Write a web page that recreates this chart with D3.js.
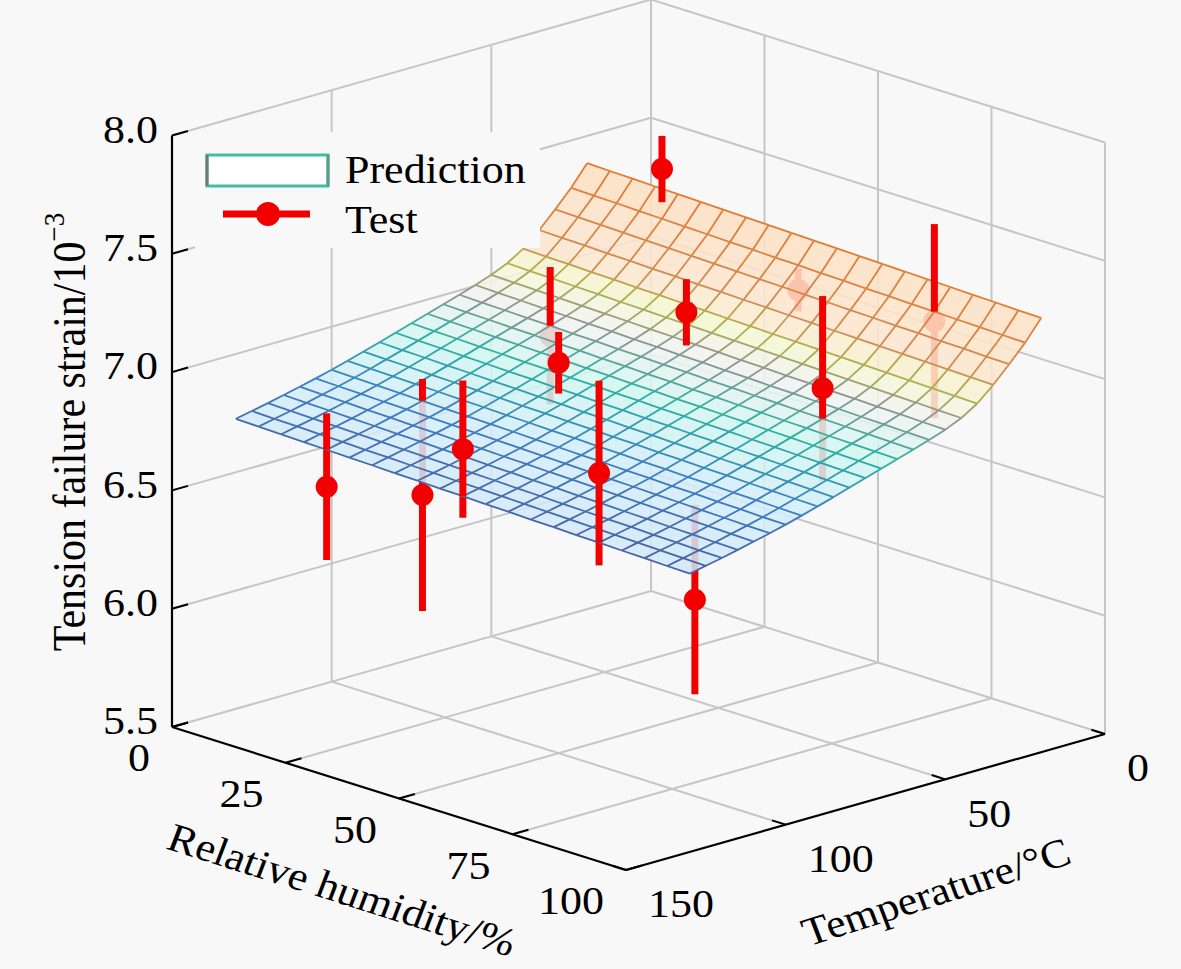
<!DOCTYPE html>
<html>
<head>
<meta charset="utf-8">
<script src="https://cdn.jsdelivr.net/npm/d3@7"></script>
<style>
  body { margin: 0; background: #f8f8f8; }
  text { font-family: "Liberation Serif", "Times New Roman", Times, serif; fill: #000; }
</style>
</head>
<body>
<svg id="chart" width="1181" height="969"></svg>
<script>
// axis ticks
var zTicks = [5.5, 6.0, 6.5, 7.0, 7.5, 8.0];
var rhTicks = [0, 25, 50, 75, 100];
var tTicks = [0, 50, 100, 150];

// prediction surface: mesh nodes (relative humidity %, temperature C) and strain/10^-3
var surfRH = [0, 5, 10, 15, 20, 25, 30, 35, 40, 45, 50, 55, 60, 65, 70, 75, 80, 85, 90, 95, 100];
var surfT = [20, 25, 30, 35, 40, 45, 50, 55, 60, 65, 70, 75, 80, 85, 90, 95, 100, 105, 110, 115, 120, 125, 130];
var surfStrain = [
  [7.385,7.382,7.380,7.377,7.375,7.372,7.370,7.367,7.365,7.362,7.360,7.357,7.355,7.352,7.350,7.347,7.345,7.342,7.340,7.337,7.335],
  [7.300,7.297,7.295,7.292,7.290,7.287,7.285,7.282,7.280,7.277,7.275,7.272,7.270,7.267,7.265,7.262,7.260,7.257,7.255,7.252,7.250],
  [7.228,7.225,7.223,7.220,7.218,7.215,7.213,7.210,7.208,7.205,7.203,7.200,7.198,7.195,7.193,7.190,7.188,7.185,7.183,7.180,7.178],
  [7.160,7.157,7.155,7.152,7.150,7.147,7.145,7.142,7.140,7.137,7.135,7.132,7.130,7.127,7.125,7.122,7.120,7.117,7.115,7.112,7.110],
  [7.100,7.097,7.095,7.092,7.090,7.087,7.085,7.082,7.080,7.077,7.075,7.072,7.070,7.067,7.065,7.062,7.060,7.057,7.055,7.052,7.050],
  [7.058,7.055,7.053,7.050,7.048,7.045,7.043,7.040,7.038,7.035,7.033,7.030,7.028,7.025,7.023,7.020,7.018,7.015,7.013,7.010,7.008],
  [7.028,7.025,7.023,7.020,7.018,7.015,7.013,7.010,7.008,7.005,7.003,7.000,6.998,6.995,6.993,6.990,6.988,6.985,6.983,6.980,6.978],
  [7.004,7.001,6.999,6.996,6.994,6.991,6.989,6.986,6.984,6.981,6.979,6.976,6.974,6.971,6.969,6.966,6.964,6.961,6.959,6.956,6.954],
  [6.982,6.979,6.977,6.974,6.972,6.969,6.967,6.964,6.962,6.959,6.957,6.954,6.952,6.949,6.947,6.944,6.942,6.939,6.937,6.934,6.932],
  [6.961,6.958,6.956,6.953,6.951,6.948,6.946,6.943,6.941,6.938,6.936,6.933,6.931,6.928,6.926,6.923,6.921,6.918,6.916,6.913,6.911],
  [6.940,6.937,6.935,6.932,6.930,6.927,6.925,6.922,6.920,6.917,6.915,6.912,6.910,6.907,6.905,6.902,6.900,6.897,6.895,6.892,6.890],
  [6.919,6.916,6.914,6.911,6.909,6.906,6.904,6.901,6.899,6.896,6.894,6.891,6.889,6.886,6.884,6.881,6.879,6.876,6.874,6.871,6.869],
  [6.898,6.895,6.893,6.890,6.888,6.885,6.883,6.880,6.878,6.875,6.873,6.870,6.868,6.865,6.863,6.860,6.858,6.855,6.853,6.850,6.848],
  [6.877,6.874,6.872,6.869,6.867,6.864,6.862,6.859,6.857,6.854,6.852,6.849,6.847,6.844,6.842,6.839,6.837,6.834,6.832,6.829,6.827],
  [6.857,6.854,6.852,6.849,6.847,6.844,6.842,6.839,6.837,6.834,6.832,6.829,6.827,6.824,6.822,6.819,6.817,6.814,6.812,6.809,6.807],
  [6.837,6.834,6.832,6.829,6.827,6.824,6.822,6.819,6.817,6.814,6.812,6.809,6.807,6.804,6.802,6.799,6.797,6.794,6.792,6.789,6.787],
  [6.818,6.815,6.813,6.810,6.808,6.805,6.803,6.800,6.798,6.795,6.793,6.790,6.788,6.785,6.783,6.780,6.778,6.775,6.773,6.770,6.768],
  [6.801,6.798,6.796,6.793,6.791,6.788,6.786,6.783,6.781,6.778,6.776,6.773,6.771,6.768,6.766,6.763,6.761,6.758,6.756,6.753,6.751],
  [6.785,6.782,6.780,6.777,6.775,6.772,6.770,6.767,6.765,6.762,6.760,6.757,6.755,6.752,6.750,6.747,6.745,6.742,6.740,6.737,6.735],
  [6.769,6.766,6.764,6.761,6.759,6.756,6.754,6.751,6.749,6.746,6.744,6.741,6.739,6.736,6.734,6.731,6.729,6.726,6.724,6.721,6.719],
  [6.754,6.751,6.749,6.746,6.744,6.741,6.739,6.736,6.734,6.731,6.729,6.726,6.724,6.721,6.719,6.716,6.714,6.711,6.709,6.706,6.704],
  [6.740,6.737,6.735,6.732,6.730,6.727,6.725,6.722,6.720,6.717,6.715,6.712,6.710,6.707,6.705,6.702,6.700,6.697,6.695,6.692,6.690],
  [6.726,6.723,6.721,6.718,6.716,6.713,6.711,6.708,6.706,6.703,6.701,6.698,6.696,6.693,6.691,6.688,6.686,6.683,6.681,6.678,6.676]
];

// test points
var testRH = [20, 50, 80, 20, 50, 80, 20, 50, 80, 20, 50, 80];
var testT = [25, 25, 25, 60, 60, 60, 100, 100, 100, 130, 130, 130];
var testStrain = [7.50, 7.17, 7.22, 6.93, 7.21, 7.07, 6.41, 7.15, 6.33, 6.56, 6.90, 6.98];
var testErr = [0.14, 0.09, 0.41, 0.29, 0.14, 0.39, 0.49, 0.13, 0.40, 0.31, 0.29, 0.39];

var svg = d3.select("#chart");
svg.append("rect").attr("width", 1181).attr("height", 969).attr("fill", "#f8f8f8");

// oblique view: each data axis maps onto a screen vector
var ox = 651, oy = 591;
var rhX = d3.scaleLinear().domain([0, 100]).range([0, 454]);
var rhY = d3.scaleLinear().domain([0, 100]).range([0, 143]);
var tX = d3.scaleLinear().domain([0, 150]).range([0, -479]);
var tY = d3.scaleLinear().domain([0, 150]).range([0, 136]);
var zY = d3.scaleLinear().domain([5.5, 8.0]).range([0, -591.5]);

function proj(rh, t, z) {
  return [ox + rhX(rh) + tX(t), oy + rhY(rh) + tY(t) + zY(z)];
}

function seg(g, a, b, color, w) {
  g.append("line")
    .attr("x1", a[0]).attr("y1", a[1])
    .attr("x2", b[0]).attr("y2", b[1])
    .attr("stroke", color).attr("stroke-width", w);
}

var SX = 1.1; // glyphs in the picture are slightly wide
function label(x, y, str, anchor, rot, size) {
  var r = Math.atan(Math.tan(rot * Math.PI / 180) * SX) * 180 / Math.PI;
  if (rot === -90) r = -90;
  return svg.append("text")
    .attr("transform", "translate(" + x + "," + y + ") scale(" + SX + ",1) rotate(" + r + ")")
    .attr("text-anchor", anchor)
    .attr("dominant-baseline", "central")
    .attr("font-size", size || 40)
    .text(str);
}

// back walls and floor grid
var grid = svg.append("g");
var gc = "#c6c6c6";
zTicks.forEach(function(z) {
  if (z > 5.5) {
    seg(grid, proj(0, 0, z), proj(0, 150, z), gc, 2);
    seg(grid, proj(0, 0, z), proj(100, 0, z), gc, 2);
  }
});
tTicks.forEach(function(t) {
  if (t < 150) seg(grid, proj(0, t, 5.5), proj(0, t, 8.0), gc, 2);
  if (t < 150) seg(grid, proj(0, t, 5.5), proj(100, t, 5.5), gc, 2);
});
rhTicks.forEach(function(rh) {
  if (rh > 0) seg(grid, proj(rh, 0, 5.5), proj(rh, 0, 8.0), gc, 2);
  if (rh < 100) seg(grid, proj(rh, 0, 5.5), proj(rh, 150, 5.5), gc, 2);
});

// axes
var ax = svg.append("g");
seg(ax, proj(0, 150, 5.5), proj(0, 150, 8.0), "#000", 2.2);
seg(ax, proj(0, 150, 5.5), proj(100, 150, 5.5), "#000", 2.2);
seg(ax, proj(100, 150, 5.5), proj(100, 0, 5.5), "#000", 2.2);
zTicks.forEach(function(z) {
  seg(ax, proj(0, 150, z), proj(0, 145, z), "#000", 2);
  var p = proj(0, 150, z);
  label(158, p[1] - 6, d3.format(".1f")(z), "end", 0);
});
rhTicks.forEach(function(rh) {
  seg(ax, proj(rh, 150, 5.5), proj(rh, 145, 5.5), "#000", 2);
  var p = proj(rh, 150, 5.5);
  label(p[0] - 22, p[1] + 31, rh, "end", 0);
});
tTicks.forEach(function(t) {
  seg(ax, proj(100, t, 5.5), proj(97, t, 5.5), "#000", 2);
  var p = proj(100, t, 5.5);
  label(p[0] + 22, p[1] + 34, t, "start", 0);
});

label(342, 890, "Relative humidity/%", "middle", 17.5);
label(936, 892, "Temperature/\u00b0C", "middle", -17.5);
var yl = label(70, 432, "Tension failure strain/10", "middle", -90, 42);
yl.append("tspan").attr("dy", -15).attr("font-size", 27).text("\u22123");

// test points split at the surface: parts under it are drawn first
var bars = testRH.map(function(rh, k) {
  var zs = surfStrain[surfT.indexOf(testT[k])][surfRH.indexOf(rh)];
  return { rh: rh, t: testT[k], z: testStrain[k], lo: testStrain[k] - testErr[k], hi: testStrain[k] + testErr[k], zs: zs };
});
var red = "#f20000";
function drawBar(g, b, z0, z1) {
  seg(g, proj(b.rh, b.t, z0), proj(b.rh, b.t, z1), red, 7);
}
function drawDot(g, b) {
  var p = proj(b.rh, b.t, b.z);
  g.append("circle").attr("cx", p[0]).attr("cy", p[1]).attr("r", 11).attr("fill", red);
}

var behind = svg.append("g");
bars.forEach(function(b) {
  if (b.lo < b.zs) drawBar(behind, b, b.lo, Math.min(b.hi, b.zs));
  if (b.z < b.zs) drawDot(behind, b);
});

// surface colours
var zExt = d3.extent(surfStrain.flat());
var tn = d3.scaleLinear().domain(zExt).range([0, 1]);
var stops = [0, 0.16, 0.32, 0.44, 0.54, 0.64, 1];
var edgeColor = d3.scaleLinear().domain(stops)
  .range(["#4a62a0", "#3f7cc0", "#2bb1a0", "#8e9494", "#adb34a", "#d08c56", "#e47a30"]);
var faceColor = d3.scaleLinear().domain(stops)
  .range(["#d2e8f8", "#d3eefa", "#d2f7f1", "#f2f3f1", "#f5f8d2", "#fde6cf", "#fde0c2"]);

var faces = svg.append("g");
var edges = svg.append("g");
var cells = [];
for (var j = 0; j < surfT.length - 1; j++) {
  for (var i = 0; i < surfRH.length - 1; i++) {
    var zc = (surfStrain[j][i] + surfStrain[j][i + 1] + surfStrain[j + 1][i] + surfStrain[j + 1][i + 1]) / 4;
    cells.push({
      pts: [proj(surfRH[i], surfT[j], surfStrain[j][i]),
            proj(surfRH[i + 1], surfT[j], surfStrain[j][i + 1]),
            proj(surfRH[i + 1], surfT[j + 1], surfStrain[j + 1][i + 1]),
            proj(surfRH[i], surfT[j + 1], surfStrain[j + 1][i])],
      z: zc, depth: i / 20 + j / 22
    });
  }
}
cells.sort(function(a, b) { return a.depth - b.depth; });
faces.selectAll("path").data(cells).join("path")
  .attr("d", function(d) { return "M" + d.pts.join("L") + "Z"; })
  .attr("fill", function(d) { return faceColor(tn(d.z)); })
  .attr("fill-opacity", 0.86);

surfT.forEach(function(t, j) {
  surfRH.forEach(function(rh, i) {
    var z = surfStrain[j][i];
    if (i < surfRH.length - 1) {
      var z2 = surfStrain[j][i + 1];
      seg(edges, proj(rh, t, z), proj(surfRH[i + 1], t, z2), edgeColor(tn((z + z2) / 2)), 1.8);
    }
    if (j < surfT.length - 1) {
      var z3 = surfStrain[j + 1][i];
      seg(edges, proj(rh, t, z), proj(rh, surfT[j + 1], z3), edgeColor(tn((z + z3) / 2)), 1.8);
    }
  });
});

var front = svg.append("g");
bars.forEach(function(b) {
  if (b.hi > b.zs) drawBar(front, b, Math.max(b.lo, b.zs), b.hi);
  if (b.z >= b.zs) drawDot(front, b);
});

// legend
var lg = svg.append("g");
lg.append("rect").attr("x", 195).attr("y", 132).attr("width", 345).attr("height", 116).attr("fill", "#f8f8f8");
lg.append("rect").attr("x", 207).attr("y", 155).attr("width", 121).attr("height", 31)
  .attr("fill", "#ffffff").attr("stroke", "#3fbf9f").attr("stroke-width", 3);
seg(lg, [207, 155], [207, 186], "#6f7a78", 3);
seg(lg, [328, 155], [328, 186], "#5c9c8c", 3);
seg(lg, [223, 214], [310, 214], red, 7);
lg.append("circle").attr("cx", 268).attr("cy", 214).attr("r", 12).attr("fill", red);
label(345, 170, "Prediction", "start", 0);
label(345, 220, "Test", "start", 0);
</script>
</body>
</html>
